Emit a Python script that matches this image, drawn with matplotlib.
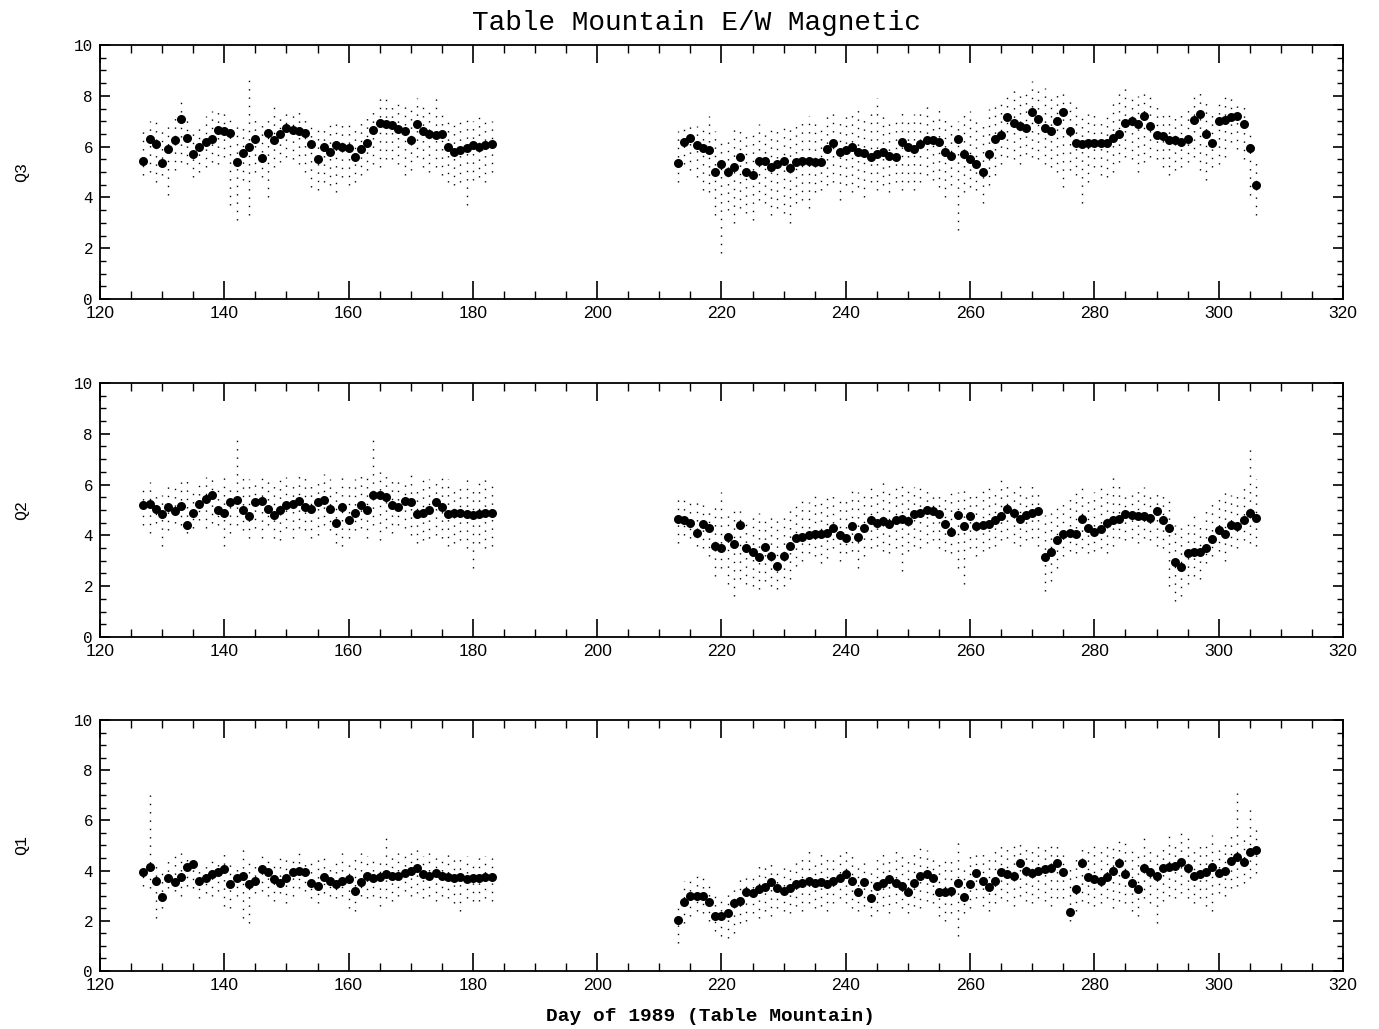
import numpy as np
import matplotlib
matplotlib.use('Agg')
import matplotlib.pyplot as plt
from matplotlib.ticker import MultipleLocator

# days covered by the two data segments
days_a = np.arange(127, 184)
days_b = np.arange(213, 307)

# ---- Q3 ----
q3_a = [5.45, 6.3, 6.1, 5.35, 5.9, 6.25, 7.1, 6.35, 5.7, 6.0, 6.2, 6.3, 6.65, 6.6, 6.55,
        5.4, 5.75, 6.0, 6.3, 5.55, 6.55, 6.25, 6.5, 6.75, 6.65, 6.6, 6.55, 6.1, 5.5, 6.0,
        5.8, 6.05, 6.0, 5.95, 5.6, 5.9, 6.15, 6.65, 6.95, 6.9, 6.85, 6.7, 6.6, 6.25, 6.9,
        6.6, 6.5, 6.45, 6.5, 6.0, 5.8, 5.85, 5.95, 6.05, 6.0, 6.05, 6.1]
q3_a_lo = [4.9, 5.0, 4.6, 4.9, 4.1, 5.1, 5.4, 5.3, 4.8, 5.0, 5.2, 5.4, 5.3, 5.6, 3.7,
           3.1, 4.7, 3.3, 5.0, 4.8, 4.0, 5.2, 5.4, 5.6, 5.5, 5.3, 5.0, 4.4, 4.3, 4.6,
           4.5, 4.2, 4.8, 4.5, 4.6, 4.9, 5.1, 5.3, 5.2, 5.5, 5.5, 5.3, 4.9, 5.1, 5.6,
           5.2, 5.0, 5.2, 4.9, 4.6, 4.5, 4.6, 3.7, 4.7, 4.8, 4.6, 5.0]
q3_a_hi = [6.6, 7.0, 7.0, 6.6, 6.8, 7.3, 8.0, 7.1, 6.7, 6.9, 7.2, 7.4, 7.5, 7.4, 7.2,
           6.9, 6.8, 8.7, 7.3, 7.0, 7.3, 7.6, 7.3, 7.5, 7.4, 7.6, 7.2, 7.0, 6.8, 6.9,
           7.1, 6.9, 7.0, 6.9, 6.7, 7.1, 7.3, 7.6, 7.9, 8.0, 7.8, 7.9, 7.6, 7.6, 7.9,
           7.8, 7.5, 8.1, 7.4, 7.2, 7.1, 7.0, 7.2, 7.0, 7.4, 7.2, 7.0]
q3_b = [5.35, 6.2, 6.35, 6.05, 5.95, 5.85, 5.0, 5.3, 5.0, 5.2, 5.6, 5.0, 4.9, 5.45, 5.45,
        5.2, 5.3, 5.45, 5.15, 5.4, 5.45, 5.45, 5.4, 5.4, 5.9, 6.15, 5.8, 5.85, 6.0, 5.8,
        5.75, 5.6, 5.7, 5.8, 5.65, 5.6, 6.2, 6.0, 5.9, 6.1, 6.25, 6.25, 6.2, 5.8, 5.65,
        6.3, 5.7, 5.5, 5.3, 5.0, 5.7, 6.3, 6.45, 7.15, 6.95, 6.8, 6.75, 7.35, 7.1, 6.75,
        6.6, 7.0, 7.35, 6.6, 6.15, 6.1, 6.15, 6.15, 6.15, 6.15, 6.35, 6.5, 6.95, 7.0, 6.9,
        7.2, 6.8, 6.45, 6.4, 6.25, 6.25, 6.2, 6.3, 7.05, 7.3, 6.5, 6.15, 7.0, 7.05, 7.15,
        7.2, 6.9, 5.95, 4.5]
q3_b_lo = [4.6, 5.3, 5.1, 4.8, 4.3, 4.2, 3.3, 1.8, 3.5, 3.0, 3.6, 3.4, 3.1, 3.9, 3.8,
           3.3, 3.6, 3.4, 3.0, 3.8, 3.9, 3.6, 4.2, 4.3, 4.5, 4.6, 3.9, 4.5, 4.2, 4.4,
           4.0, 4.6, 4.3, 4.5, 4.2, 4.6, 4.3, 4.6, 4.3, 4.6, 4.9, 4.7, 4.4, 4.0, 4.5,
           2.7, 4.2, 4.4, 4.3, 3.8, 4.5, 4.9, 5.3, 5.6, 5.5, 5.3, 5.7, 5.6, 5.5, 5.3,
           5.2, 5.0, 4.4, 5.1, 4.9, 3.8, 4.6, 5.2, 4.9, 4.8, 5.0, 5.4, 5.6, 5.5, 5.0,
           5.4, 5.6, 5.5, 5.2, 4.9, 5.1, 5.2, 5.4, 5.6, 5.1, 4.7, 5.2, 5.3, 5.6, 6.2,
           5.9, 5.5, 4.1, 3.3]
q3_b_hi = [6.6, 6.9, 7.0, 6.8, 6.7, 7.2, 6.6, 6.2, 6.4, 6.7, 6.8, 6.4, 6.6, 6.9, 6.5,
           6.7, 6.6, 6.8, 6.7, 6.9, 7.0, 7.2, 7.1, 6.9, 7.3, 7.5, 7.0, 7.2, 7.3, 7.6,
           7.1, 7.4, 7.9, 7.3, 7.1, 7.2, 7.5, 7.0, 7.3, 7.4, 7.6, 7.3, 7.5, 7.2, 7.1,
           7.0, 7.3, 7.4, 7.2, 7.0, 7.5, 7.6, 7.7, 8.2, 8.4, 8.0, 8.1, 8.6, 8.2, 8.3,
           7.9, 8.1, 8.2, 8.0, 7.6, 7.2, 7.3, 7.4, 7.0, 7.3, 7.7, 8.2, 8.5, 8.1, 8.0,
           8.3, 8.0, 7.8, 7.5, 7.4, 7.2, 7.4, 7.6, 8.0, 8.2, 7.7, 7.5, 7.9, 8.0, 8.1,
           7.7, 7.6, 6.6, 5.6]

# ---- Q2 ----
q2_a = [5.2, 5.25, 5.05, 4.85, 5.1, 4.95, 5.15, 4.4, 4.9, 5.25, 5.45, 5.6, 5.0, 4.9, 5.3,
        5.4, 5.0, 4.75, 5.3, 5.35, 5.05, 4.8, 5.0, 5.2, 5.25, 5.35, 5.1, 5.05, 5.3, 5.4,
        5.05, 4.5, 5.1, 4.6, 4.9, 5.2, 5.0, 5.6, 5.6, 5.5, 5.2, 5.1, 5.35, 5.3, 4.85,
        4.9, 5.0, 5.3, 5.1, 4.85, 4.9, 4.9, 4.85, 4.8, 4.85, 4.9, 4.9]
q2_a_lo = [4.4, 4.1, 4.5, 3.6, 4.2, 4.5, 4.4, 4.1, 4.3, 4.6, 4.3, 4.5, 4.4, 3.6, 4.1,
           4.4, 4.2, 3.9, 4.3, 3.9, 4.4, 3.9, 3.8, 4.3, 3.9, 4.3, 4.2, 3.9, 4.0, 4.4,
           4.2, 3.7, 3.6, 3.9, 4.2, 4.3, 3.9, 4.4, 3.8, 4.3, 4.1, 4.4, 4.3, 4.0, 3.7,
           3.8, 3.9, 4.0, 3.9, 3.6, 3.7, 3.8, 3.5, 2.7, 3.7, 3.5, 3.6]
q2_a_hi = [5.9, 6.1, 5.8, 5.6, 6.0, 5.9, 6.1, 6.2, 5.8, 6.0, 6.3, 6.2, 6.0, 6.3, 6.0,
           7.9, 6.4, 6.2, 6.1, 6.5, 6.2, 6.0, 6.4, 6.3, 6.0, 6.5, 6.4, 6.0, 6.2, 6.4,
           6.2, 6.0, 6.3, 6.1, 6.2, 6.4, 6.3, 7.9, 6.5, 6.4, 6.2, 6.3, 6.1, 6.4, 6.0,
           6.3, 6.2, 6.1, 6.4, 6.2, 5.9, 6.1, 6.3, 6.0, 6.2, 6.4, 6.0]
q2_b = [4.65, 4.6, 4.5, 4.1, 4.45, 4.3, 3.6, 3.5, 3.95, 3.65, 4.4, 3.5, 3.35, 3.15, 3.55,
        3.2, 2.8, 3.2, 3.6, 3.9, 3.95, 4.0, 4.05, 4.05, 4.1, 4.3, 4.0, 3.9, 4.35, 3.95,
        4.3, 4.6, 4.5, 4.55, 4.45, 4.6, 4.65, 4.55, 4.85, 4.9, 5.0, 4.95, 4.85, 4.45, 4.15,
        4.8, 4.35, 4.75, 4.35, 4.4, 4.45, 4.6, 4.75, 5.05, 4.9, 4.65, 4.8, 4.9, 4.95, 3.15,
        3.35, 3.8, 4.05, 4.1, 4.05, 4.65, 4.3, 4.15, 4.25, 4.5, 4.6, 4.65, 4.85, 4.8, 4.75,
        4.75, 4.7, 4.95, 4.6, 4.3, 2.95, 2.75, 3.3, 3.35, 3.35, 3.5, 3.85, 4.2, 4.05, 4.4,
        4.35, 4.6, 4.9, 4.7]
q2_b_lo = [3.7, 4.0, 3.9, 3.6, 3.5, 3.2, 2.4, 2.7, 2.1, 1.6, 2.3, 2.1, 2.0, 1.9, 2.2,
           2.0, 1.9, 2.0, 2.3, 2.8, 3.0, 3.3, 3.2, 2.9, 3.1, 3.5, 3.0, 3.3, 3.4, 2.7,
           3.2, 3.5, 3.6, 3.4, 3.3, 3.5, 2.6, 3.4, 3.6, 3.5, 3.7, 3.8, 3.5, 3.4, 3.3,
           2.7, 2.1, 3.5, 3.2, 3.4, 3.5, 3.6, 3.8, 3.9, 3.7, 3.6, 3.8, 3.9, 3.6, 1.8,
           2.2, 2.7, 3.2, 3.4, 3.3, 3.5, 3.3, 3.4, 3.5, 3.3, 3.6, 3.9, 3.8, 3.9, 3.7,
           3.9, 3.8, 3.6, 3.5, 2.0, 1.4, 1.6, 2.1, 2.4, 2.3, 2.9, 3.2, 3.4, 3.0, 3.6,
           3.5, 3.8, 3.7, 3.6]
q2_b_hi = [5.6, 5.4, 5.3, 5.5, 5.2, 5.0, 5.1, 5.7, 4.9, 5.0, 5.2, 4.7, 4.8, 4.9, 4.6,
           4.8, 4.7, 4.9, 5.1, 5.2, 5.4, 5.3, 5.6, 5.4, 5.6, 5.8, 5.5, 5.6, 5.9, 5.7,
           5.6, 6.0, 5.8, 6.1, 5.9, 6.0, 6.1, 5.8, 5.9, 6.0, 6.0, 5.8, 5.7, 5.6, 5.8,
           5.7, 6.0, 5.8, 5.7, 5.9, 6.0, 5.8, 6.2, 6.1, 5.9, 6.0, 5.7, 6.1, 5.8, 4.8,
           4.9, 5.3, 5.4, 5.6, 5.8, 6.0, 5.5, 5.7, 6.1, 5.9, 6.4, 6.0, 5.7, 5.8, 6.0,
           5.9, 5.6, 5.8, 5.7, 5.5, 4.4, 4.3, 4.6, 4.9, 4.5, 5.2, 5.4, 5.5, 5.9, 5.6,
           5.8, 5.9, 7.5, 6.2]

# ---- Q1 ----
q1_a = [3.95, 4.15, 3.6, 2.95, 3.7, 3.55, 3.75, 4.15, 4.25, 3.6, 3.7, 3.85, 3.95, 4.05, 3.45,
        3.7, 3.8, 3.45, 3.6, 4.05, 3.95, 3.65, 3.5, 3.7, 3.95, 4.0, 3.95, 3.5, 3.4, 3.75,
        3.6, 3.45, 3.6, 3.65, 3.2, 3.55, 3.8, 3.7, 3.75, 3.85, 3.8, 3.8, 3.9, 4.0, 4.1,
        3.85, 3.8, 3.9, 3.8, 3.75, 3.7, 3.75, 3.65, 3.7, 3.7, 3.75, 3.75]
q1_a_lo = [3.4, 3.3, 2.1, 2.5, 3.3, 3.2, 3.0, 3.4, 3.3, 2.9, 3.1, 3.0, 3.2, 2.6, 2.5,
           3.0, 2.1, 1.9, 3.1, 3.2, 3.0, 2.8, 3.1, 2.7, 3.0, 3.3, 3.2, 2.9, 2.7, 3.1,
           3.0, 2.9, 3.0, 2.5, 2.4, 3.0, 2.9, 3.0, 2.6, 2.9, 2.8, 3.0, 3.2, 3.0, 3.1,
           2.9, 3.0, 2.8, 3.0, 2.9, 2.7, 2.4, 2.9, 2.8, 2.8, 2.9, 2.8]
q1_a_hi = [4.3, 7.0, 4.4, 3.9, 4.4, 4.8, 4.7, 4.6, 4.5, 4.2, 4.4, 4.6, 4.5, 4.8, 4.3,
           4.3, 4.9, 4.3, 4.4, 4.6, 4.4, 4.2, 4.5, 4.6, 4.4, 4.7, 4.4, 4.3, 4.5, 4.5,
           4.3, 4.3, 4.7, 4.4, 4.5, 4.7, 4.6, 4.4, 4.6, 5.3, 4.6, 4.7, 4.8, 4.7, 4.9,
           4.6, 4.7, 4.6, 4.5, 4.7, 4.6, 4.5, 4.6, 4.4, 4.7, 4.6, 4.5]
q1_b = [2.05, 2.75, 3.0, 3.0, 3.0, 2.75, 2.2, 2.2, 2.3, 2.7, 2.8, 3.15, 3.1, 3.25, 3.35,
        3.55, 3.3, 3.2, 3.3, 3.45, 3.5, 3.6, 3.5, 3.55, 3.45, 3.6, 3.7, 3.85, 3.6, 3.15,
        3.55, 2.9, 3.4, 3.5, 3.65, 3.5, 3.4, 3.15, 3.5, 3.8, 3.85, 3.7, 3.15, 3.15, 3.2,
        3.5, 2.95, 3.45, 3.9, 3.6, 3.35, 3.6, 3.95, 3.85, 3.8, 4.3, 4.0, 3.9, 4.0, 4.05,
        4.1, 4.3, 3.95, 2.35, 3.25, 4.3, 3.75, 3.65, 3.6, 3.75, 4.0, 4.3, 3.85, 3.5, 3.25,
        4.1, 3.95, 3.8, 4.1, 4.15, 4.2, 4.35, 4.1, 3.8, 3.85, 3.95, 4.15, 3.9, 4.0, 4.4,
        4.55, 4.35, 4.75, 4.8]
q1_b_lo = [1.1, 1.9, 2.2, 2.4, 2.3, 2.0, 1.6, 1.4, 1.3, 1.5, 1.9, 2.0, 2.3, 2.1, 2.4,
           2.2, 2.5, 2.4, 2.3, 2.6, 2.4, 2.7, 2.5, 2.6, 2.4, 2.7, 2.9, 2.7, 2.5, 2.4,
           2.6, 2.2, 2.4, 2.6, 2.3, 2.7, 2.5, 2.3, 2.6, 2.5, 2.8, 2.7, 2.2, 2.0, 2.3,
           1.4, 2.3, 2.5, 2.9, 2.6, 2.4, 2.7, 2.9, 2.8, 2.6, 3.0, 2.8, 2.7, 2.9, 2.8,
           2.6, 2.9, 2.9, 2.0, 2.4, 2.8, 2.7, 2.6, 2.7, 2.9, 2.5, 2.8, 2.7, 2.4, 2.2,
           2.9, 2.7, 1.9, 2.8, 3.0, 2.9, 3.1, 2.9, 2.7, 2.9, 2.6, 2.4, 3.1, 3.0, 3.3,
           3.4, 3.5, 3.7, 3.9]
q1_b_hi = [2.7, 3.6, 3.8, 3.9, 3.7, 3.5, 3.0, 3.0, 3.2, 3.5, 3.7, 4.0, 3.9, 4.2, 4.2,
           4.4, 4.1, 4.3, 4.2, 4.4, 4.5, 4.8, 4.5, 4.7, 4.6, 4.5, 4.7, 4.8, 4.6, 4.3,
           4.6, 4.2, 4.7, 4.8, 4.6, 5.0, 4.8, 4.6, 4.7, 5.0, 4.8, 4.7, 4.5, 4.4, 4.6,
           5.2, 4.3, 4.7, 4.9, 4.8, 4.6, 4.8, 5.1, 4.9, 5.2, 5.2, 4.9, 5.0, 5.2, 5.1,
           5.2, 5.1, 4.9, 4.2, 4.6, 5.1, 4.9, 5.0, 4.8, 5.2, 5.0, 5.3, 5.1, 4.8, 4.6,
           5.3, 5.0, 4.9, 5.1, 5.4, 5.2, 5.7, 5.3, 5.0, 5.2, 5.0, 5.4, 5.1, 5.3, 5.6,
           7.1, 5.5, 6.6, 5.8]

panels = [
    ('Q3', q3_a, q3_a_lo, q3_a_hi, q3_b, q3_b_lo, q3_b_hi),
    ('Q2', q2_a, q2_a_lo, q2_a_hi, q2_b, q2_b_lo, q2_b_hi),
    ('Q1', q1_a, q1_a_lo, q1_a_hi, q1_b, q1_b_lo, q1_b_hi),
]

fig = plt.figure(figsize=(13.79, 10.29), dpi=100)
fig.patch.set_facecolor('white')

# axes boxes in figure fraction (left, bottom, width, height)
boxes = [
    [0.0725, 0.7094, 0.9014, 0.2468],
    [0.0725, 0.3810, 0.9014, 0.2468],
    [0.0725, 0.0564, 0.9014, 0.2439],
]

for (name, va, loa, hia, vb, lob, hib), box in zip(panels, boxes):
    ax = fig.add_axes(box)
    # hourly scatter shown as sparse dotted streaks
    ax.vlines(days_a, loa, hia, colors='black', linestyles=(0, (1, 5)), linewidth=1.0)
    ax.vlines(days_b, lob, hib, colors='black', linestyles=(0, (1, 5)), linewidth=1.0)
    # daily values
    ax.plot(days_a, va, 'o', color='black', markersize=6.5, markeredgewidth=0)
    ax.plot(days_b, vb, 'o', color='black', markersize=6.5, markeredgewidth=0)

    ax.set_xlim(120, 320)
    ax.set_ylim(0, 10)
    ax.xaxis.set_major_locator(MultipleLocator(20))
    ax.xaxis.set_minor_locator(MultipleLocator(5))
    ax.yaxis.set_major_locator(MultipleLocator(2))
    ax.yaxis.set_minor_locator(MultipleLocator(0.5))
    ax.tick_params(axis='x', which='major', direction='in', top=True, bottom=True,
                   length=13, width=1.2, pad=5, labelsize=12.5)
    ax.tick_params(axis='x', which='minor', direction='in', top=True, bottom=True,
                   length=6, width=1.0)
    ax.tick_params(axis='y', which='major', direction='in', left=True, right=True,
                   length=7, width=1.2, pad=5, labelsize=11.5)
    ax.tick_params(axis='y', which='minor', direction='in', left=True, right=True,
                   length=4, width=1.0)
    for lab in ax.get_xticklabels():
        lab.set_family('Liberation Sans')
    for lab in ax.get_yticklabels():
        lab.set_family('Liberation Mono')
    for sp in ax.spines.values():
        sp.set_linewidth(1.3)
    ax.set_ylabel(name, family='Liberation Mono', fontsize=12, labelpad=32)

fig.text(0.505, 0.978, 'Table Mountain E/W Magnetic', ha='center', va='center',
         family='Liberation Mono', fontsize=20)
fig.text(0.515, 0.012, 'Day of 1989 (Table Mountain)', ha='center', va='center',
         family='Liberation Mono', fontweight='bold', fontsize=14)

fig.savefig('out.png', dpi=100, facecolor='white')
